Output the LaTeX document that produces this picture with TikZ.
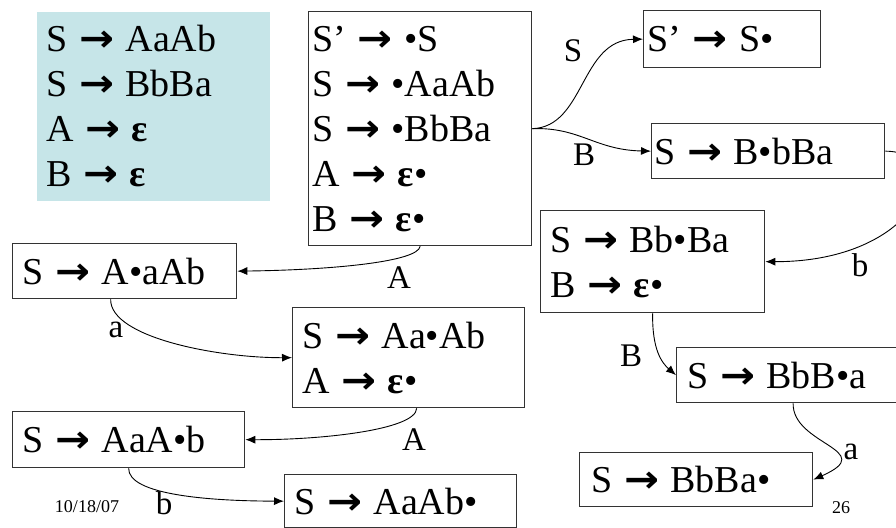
\documentclass[tikz,border=0pt]{standalone}
\usepackage{fontspec}
\setmainfont{Liberation Serif}
\newfontfamily\arrowfont{DejaVu Sans}
\usetikzlibrary{arrows.meta}

\definecolor{gramfill}{RGB}{198,229,232}
\newcommand{\prodto}{\hspace{0.3em}{\arrowfont\bfseries\scalebox{1.1}[1]{→}}\hspace{0.3em}}
\newcommand{\epsb}{\textbf{ε}}

\begin{document}
\begin{tikzpicture}[
    x=1pt,
    y=-1pt,
    >={Latex[length=10pt,width=8pt]},
    item/.style={draw=black!80,line width=1.3pt,anchor=north west,align=left,
        inner xsep=10pt,inner ysep=0pt,font=\fontsize{38}{45}\selectfont},
    trans/.style={->,line width=0.9pt},
    sym/.style={inner sep=0pt,font=\fontsize{33}{38}\selectfont},
    foot/.style={inner sep=0pt,font=\fontsize{18}{20}\selectfont}
]
    \useasboundingbox (0,0) rectangle (896,527);

    % grammar
    \node[item,draw=none,fill=gramfill,text width=213pt,minimum height=189pt]
        (gram) at (36,11)
        {S\prodto AaAb\\ S\prodto BbBa\\ A\prodto \epsb\\ B\prodto \epsb};

    % item sets
    \node[item,inner xsep=4pt,text width=215pt,minimum height=234pt] (i0) at (308,11)
        {S’\prodto •S\\ S\prodto •AaAb\\ S\prodto •BbBa\\
         A\prodto \epsb•\\ B\prodto \epsb•};
    \node[item,inner xsep=4pt,text width=169pt,minimum height=57pt] (goS) at (643,10)
        {S’\prodto S•};
    \node[item,inner xsep=3pt,text width=227pt,minimum height=55pt] (goB) at (651,123)
        {S\prodto B•bBa};
    \node[item,text width=204pt,minimum height=102pt] (bb) at (540,210)
        {S\prodto Bb•Ba\\ B\prodto \epsb•};
    \node[item,text width=204pt,minimum height=55pt] (ad) at (12,243)
        {S\prodto A•aAb};
    \node[item,text width=212pt,minimum height=100pt] (aa) at (292,307)
        {S\prodto Aa•Ab\\ A\prodto \epsb•};
    \node[item,text width=212pt,minimum height=56pt] (aaa) at (12,411)
        {S\prodto AaA•b};
    \node[item,text width=212pt,minimum height=53pt] (aaab) at (284,474)
        {S\prodto AaAb•};
    \node[item,inner xsep=11pt,text width=211pt,minimum height=55pt] (bbb) at (676,347)
        {S\prodto BbB•a};
    \node[item,inner xsep=12pt,text width=209pt,minimum height=54pt] (bbba) at (579,452)
        {S\prodto BbBa•};

    % transitions
    \draw[trans] (i0.east) .. controls (585,127) and (580,40) .. (goS.west);
    \draw[trans] (i0.east) .. controls (580,127) and (595,150) .. (goB.west);
    \draw[trans] (goB.east) .. controls (960,152) and (920,262) .. (bb.east);
    \draw[trans] (i0.south) .. controls (418,262) and (330,270) .. (ad.east);
    \draw[trans] ([xshift=-14pt]ad.south) .. controls (110,338) and (220,358) .. (aa.west);
    \draw[trans] ([xshift=8pt]aa.south) .. controls (416,430) and (320,440) .. (aaa.east);
    \draw[trans] (aaa.south) .. controls (128,495) and (210,501) .. (aaab.west);
    \draw[trans] (bb.south) .. controls (652,350) and (662,363) .. (bbb.west);
    \draw[trans] (bbb.south) .. controls (792,445) and (880,450) .. (bbba.east);

    % symbols on the transitions
    \node[sym] (sS) at (573,51) {S};
    \node[sym] (sB) at (584,155) {B};
    \node[sym] (sb) at (860,265) {b};
    \node[sym] (sA) at (399,278) {A};
    \node[sym] (sa) at (116,330) {a};
    \node[sym] (sA2) at (414,440) {A};
    \node[sym] (sb2) at (164,503) {b};
    \node[sym] (sB2) at (631,356) {B};
    \node[sym] (sa2) at (851,452) {a};

    % footer
    \node[foot] (date) at (87,507) {10/18/07};
    \node[foot] (page) at (841,508) {26};
\end{tikzpicture}
\end{document}
